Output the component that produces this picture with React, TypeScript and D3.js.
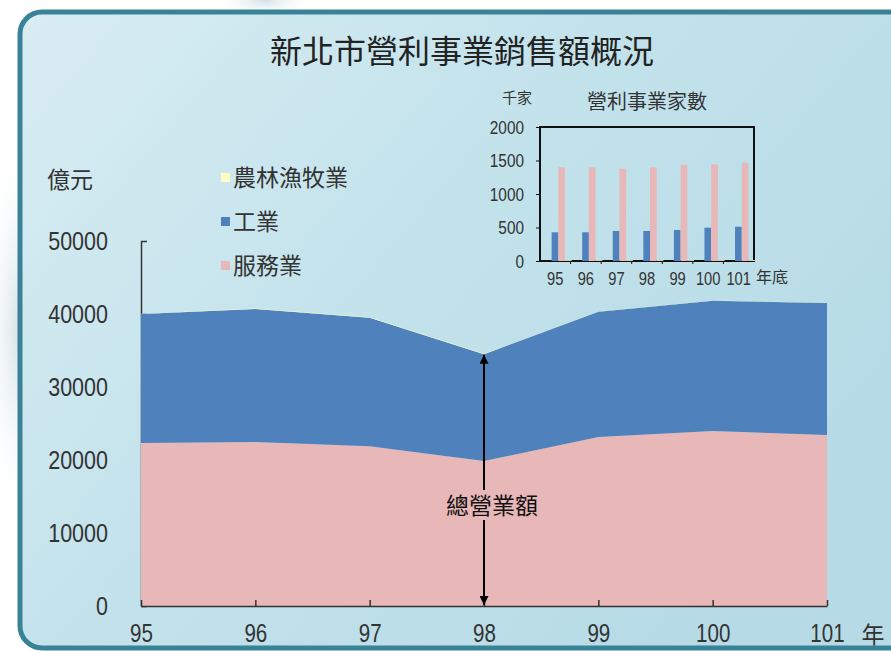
import React, { useRef, useEffect } from 'react';
import * as d3 from 'd3';

// main chart: sales (億元) by year
const years = ['95', '96', '97', '98', '99', '100', '101'];
const salesService = [22330, 22470, 21900, 19860, 23150, 23970, 23420];
const salesIndustry = [17670, 18230, 17600, 14640, 17150, 17830, 18080];
const salesAgri = [40, 40, 40, 40, 40, 40, 40];
const yTicks = [0, 10000, 20000, 30000, 40000, 50000];

// inset: number of businesses (千家)
const countIndustry = [428, 428, 448, 448, 463, 497, 512];
const countService = [1398, 1398, 1378, 1398, 1433, 1443, 1467];
const countAgri = [12, 12, 12, 12, 12, 12, 12];
const insetTicks = [0, 500, 1000, 1500, 2000];

const seriesNames = ['農林漁牧業', '工業', '服務業'];
const seriesColors = ['#ffffc4', '#4f81bd', '#e8b7b7'];

const NUM_FONT = "'Liberation Sans', Arial, sans-serif";
const CJK_FONT = "'Noto Sans CJK TC', 'Noto Sans CJK SC', sans-serif";
const TEXT = '#333';

const W = 891;
const H = 651;

// squeeze digits so they look like the narrow font in the original
function narrow(sel: any, fontSize: number, ratio: number) {
  sel.attr('font-family', NUM_FONT)
    .attr('font-size', fontSize)
    .attr('fill', TEXT)
    .attr('lengthAdjust', 'spacingAndGlyphs')
    .attr('textLength', function (this: SVGTextElement) {
      return (this.textContent || '').length * fontSize * ratio;
    });
}

const App: React.FC = () => {
  const svgRef = useRef<SVGSVGElement | null>(null);

  useEffect(() => {
    if (!svgRef.current) return;
    const svg = d3.select(svgRef.current);
    svg.selectAll('*').remove();

    // background
    const defs = svg.append('defs');
    const grad = defs.append('linearGradient')
      .attr('id', 'panelGrad')
      .attr('x1', '0').attr('y1', '0').attr('x2', '1').attr('y2', '0.6');
    grad.append('stop').attr('offset', '0').attr('stop-color', '#d9edf3');
    grad.append('stop').attr('offset', '0.45').attr('stop-color', '#c4e3ec');
    grad.append('stop').attr('offset', '1').attr('stop-color', '#b6dbe6');

    const glow = defs.append('radialGradient').attr('id', 'glow');
    glow.append('stop').attr('offset', '0').attr('stop-color', '#c9d9e0').attr('stop-opacity', 0.8);
    glow.append('stop').attr('offset', '1').attr('stop-color', '#ffffff').attr('stop-opacity', 0);

    svg.append('rect').attr('width', W).attr('height', H).attr('fill', '#ffffff');
    svg.append('ellipse').attr('cx', 20).attr('cy', 330).attr('rx', 40).attr('ry', 200).attr('fill', 'url(#glow)');
    svg.append('ellipse').attr('cx', 265).attr('cy', 0).attr('rx', 50).attr('ry', 20).attr('fill', 'url(#glow)');

    svg.append('rect')
      .attr('x', 20).attr('y', 12)
      .attr('width', 900).attr('height', 636)
      .attr('rx', 22)
      .attr('fill', 'url(#panelGrad)')
      .attr('stroke', '#3a8298')
      .attr('stroke-width', 5);

    // title
    svg.append('text')
      .attr('x', 462).attr('y', 63)
      .attr('text-anchor', 'middle')
      .attr('font-family', CJK_FONT)
      .attr('font-size', 32)
      .attr('fill', '#222')
      .text('新北市營利事業銷售額概況');

    // ---- main area chart ----
    const x = d3.scalePoint<string>().domain(years).range([141, 827]);
    const y = d3.scaleLinear().domain([0, 50000]).range([606, 241]);

    const rows = years.map((yr, i) => ({
      year: yr,
      service: salesService[i],
      industry: salesIndustry[i],
      agri: salesAgri[i],
    }));
    const keys = ['service', 'industry', 'agri'];
    const keyColor: Record<string, string> = {
      service: seriesColors[2],
      industry: seriesColors[1],
      agri: seriesColors[0],
    };
    const stacked = d3.stack<any>().keys(keys)(rows);

    // y axis (under areas)
    const yAxis = svg.append('g')
      .attr('transform', 'translate(141,0)')
      .call(d3.axisLeft(y).tickValues(yTicks).tickSizeInner(-6).tickSizeOuter(0).tickPadding(33).tickFormat(d3.format('d')));
    yAxis.select('.domain').attr('stroke', TEXT).attr('stroke-width', 1.5);
    yAxis.selectAll('line').attr('stroke', TEXT).attr('stroke-width', 1.5);
    narrow(yAxis.selectAll('text'), 26, 0.46);

    const area = d3.area<any>()
      .x(d => x(d.data.year)!)
      .y0(d => y(d[0]))
      .y1(d => y(d[1]));

    svg.append('g')
      .selectAll('path')
      .data(stacked)
      .join('path')
      .attr('d', d => area(d as any)!)
      .attr('fill', d => keyColor[d.key]);

    // x axis (on top)
    const xAxis = svg.append('g')
      .attr('transform', 'translate(0,606)')
      .call(d3.axisBottom(x).tickSizeInner(-6).tickSizeOuter(0).tickPadding(18));
    xAxis.select('.domain').attr('stroke', TEXT).attr('stroke-width', 1.5);
    xAxis.selectAll('line').attr('stroke', TEXT).attr('stroke-width', 1.5);
    narrow(xAxis.selectAll('text'), 26, 0.44);

    svg.append('text')
      .attr('x', 873).attr('y', 643)
      .attr('text-anchor', 'middle')
      .attr('font-family', CJK_FONT).attr('font-size', 23).attr('fill', TEXT)
      .text('年');

    svg.append('text')
      .attr('x', 47).attr('y', 188)
      .attr('font-family', CJK_FONT).attr('font-size', 23).attr('fill', TEXT)
      .text('億元');

    // legend
    const legend = svg.append('g').attr('transform', 'translate(221,178)');
    seriesNames.forEach((name, i) => {
      const g = legend.append('g').attr('transform', `translate(0,${i * 44})`);
      g.append('rect').attr('x', 0).attr('y', -5).attr('width', 9).attr('height', 9).attr('fill', seriesColors[i]);
      g.append('text')
        .attr('x', 12).attr('y', 8)
        .attr('font-family', CJK_FONT).attr('font-size', 23).attr('fill', TEXT)
        .text(name);
    });

    // total arrow at 98
    const arrowYear = '98';
    const ai = years.indexOf(arrowYear);
    const total = salesService[ai] + salesIndustry[ai] + salesAgri[ai];
    defs.append('marker')
      .attr('id', 'arrowHead')
      .attr('viewBox', '0 0 10 10')
      .attr('refX', 10).attr('refY', 5)
      .attr('markerWidth', 10).attr('markerHeight', 9)
      .attr('markerUnits', 'userSpaceOnUse')
      .attr('orient', 'auto-start-reverse')
      .append('path').attr('d', 'M0,0 L10,5 L0,10 Z').attr('fill', '#000');
    const ax = x(arrowYear)!;
    svg.append('line')
      .attr('x1', ax).attr('x2', ax)
      .attr('y1', y(0) - 1).attr('y2', y(total) + 1)
      .attr('stroke', '#000').attr('stroke-width', 2)
      .attr('marker-start', 'url(#arrowHead)')
      .attr('marker-end', 'url(#arrowHead)');
    svg.append('rect')
      .attr('x', ax - 42).attr('y', 490).attr('width', 100).attr('height', 30)
      .attr('fill', seriesColors[2]);
    svg.append('text')
      .attr('x', ax + 8).attr('y', 514)
      .attr('text-anchor', 'middle')
      .attr('font-family', CJK_FONT).attr('font-size', 23).attr('fill', '#111')
      .text('總營業額');

    // ---- inset bar chart ----
    const ix = d3.scaleBand<string>().domain(years).range([540, 754]).padding(0);
    const iy = d3.scaleLinear().domain([0, 2000]).range([261, 127]);
    const barW = 6.7;
    const inset = svg.append('g');

    inset.append('rect')
      .attr('x', 540).attr('y', 127).attr('width', 214).attr('height', 134)
      .attr('fill', 'none').attr('stroke', '#111').attr('stroke-width', 2);

    const bars: [number[], string, number][] = [
      [countIndustry, seriesColors[1], 0],
      [countService, seriesColors[2], 1],
      [countAgri, seriesColors[0], 2],
    ];
    bars.forEach(([vals, color, k]) => {
      inset.append('g')
        .selectAll('rect')
        .data(vals)
        .join('rect')
        .attr('x', (d, i) => ix(years[i])! + ix.bandwidth() * 0.38 + k * barW)
        .attr('y', d => iy(d))
        .attr('width', barW)
        .attr('height', d => iy(0) - iy(d))
        .attr('fill', color);
    });

    const iyAxis = inset.append('g')
      .attr('transform', 'translate(540,0)')
      .call(d3.axisLeft(iy).tickValues(insetTicks).tickSize(4).tickPadding(12).tickFormat(d3.format('d')));
    iyAxis.select('.domain').remove();
    iyAxis.selectAll('line').attr('stroke', '#111');
    narrow(iyAxis.selectAll('text'), 19, 0.45);

    // category ticks between bands
    inset.append('g')
      .selectAll('line')
      .data(years.slice(1))
      .join('line')
      .attr('x1', d => ix(d)!).attr('x2', d => ix(d)!)
      .attr('y1', 261).attr('y2', 264)
      .attr('stroke', '#111');
    const ixLabels = inset.append('g')
      .selectAll('text')
      .data(years)
      .join('text')
      .attr('x', d => ix(d)! + ix.bandwidth() / 2)
      .attr('y', 285)
      .attr('text-anchor', 'middle')
      .text(d => d);
    narrow(ixLabels, 19, 0.43);

    inset.append('text')
      .attr('x', 756).attr('y', 283)
      .attr('font-family', CJK_FONT).attr('font-size', 16).attr('fill', TEXT)
      .text('年底');
    inset.append('text')
      .attr('x', 517).attr('y', 103)
      .attr('text-anchor', 'middle')
      .attr('font-family', CJK_FONT).attr('font-size', 15).attr('fill', TEXT)
      .text('千家');
    inset.append('text')
      .attr('x', 647).attr('y', 109)
      .attr('text-anchor', 'middle')
      .attr('font-family', CJK_FONT).attr('font-size', 20).attr('fill', TEXT)
      .text('營利事業家數');
  }, []);

  return (
    <svg
      ref={svgRef}
      width={W}
      height={H}
      style={{ position: 'absolute', left: 0, top: 0, display: 'block' }}
    />
  );
};

export default App;
